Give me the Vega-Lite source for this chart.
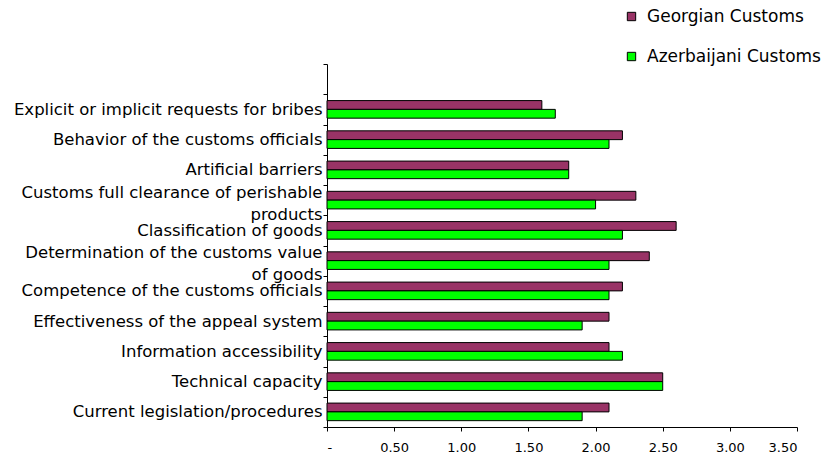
{
  "$schema": "https://vega.github.io/schema/vega-lite/v6.json",
  "width": 470,
  "height": 363,
  "autosize": {"type": "none"},
  "padding": {"left": 327, "top": 64, "right": 38, "bottom": 32},
  "background": "white",
  "config": {
    "view": {"stroke": null},
    "font": "DejaVu Sans"
  },
  "data": {
    "values": [
      {"factor": "Explicit or implicit requests for bribes", "customs": "Georgian Customs", "score": 1.6},
      {"factor": "Explicit or implicit requests for bribes", "customs": "Azerbaijani Customs", "score": 1.7},
      {"factor": "Behavior of the customs officials", "customs": "Georgian Customs", "score": 2.2},
      {"factor": "Behavior of the customs officials", "customs": "Azerbaijani Customs", "score": 2.1},
      {"factor": "Artificial barriers", "customs": "Georgian Customs", "score": 1.8},
      {"factor": "Artificial barriers", "customs": "Azerbaijani Customs", "score": 1.8},
      {"factor": "Customs full clearance of perishable products", "customs": "Georgian Customs", "score": 2.3},
      {"factor": "Customs full clearance of perishable products", "customs": "Azerbaijani Customs", "score": 2.0},
      {"factor": "Classification of goods", "customs": "Georgian Customs", "score": 2.6},
      {"factor": "Classification of goods", "customs": "Azerbaijani Customs", "score": 2.2},
      {"factor": "Determination of the customs value of goods", "customs": "Georgian Customs", "score": 2.4},
      {"factor": "Determination of the customs value of goods", "customs": "Azerbaijani Customs", "score": 2.1},
      {"factor": "Competence of the customs officials", "customs": "Georgian Customs", "score": 2.2},
      {"factor": "Competence of the customs officials", "customs": "Azerbaijani Customs", "score": 2.1},
      {"factor": "Effectiveness of the appeal system", "customs": "Georgian Customs", "score": 2.1},
      {"factor": "Effectiveness of the appeal system", "customs": "Azerbaijani Customs", "score": 1.9},
      {"factor": "Information accessibility", "customs": "Georgian Customs", "score": 2.1},
      {"factor": "Information accessibility", "customs": "Azerbaijani Customs", "score": 2.2},
      {"factor": "Technical capacity", "customs": "Georgian Customs", "score": 2.5},
      {"factor": "Technical capacity", "customs": "Azerbaijani Customs", "score": 2.5},
      {"factor": "Current legislation/procedures", "customs": "Georgian Customs", "score": 2.1},
      {"factor": "Current legislation/procedures", "customs": "Azerbaijani Customs", "score": 1.9}
    ]
  },
  "mark": {"type": "bar", "stroke": "black", "strokeWidth": 1},
  "encoding": {
    "y": {
      "field": "factor",
      "type": "nominal",
      "title": null,
      "scale": {
        "domain": [
          " ",
          "Explicit or implicit requests for bribes",
          "Behavior of the customs officials",
          "Artificial barriers",
          "Customs full clearance of perishable products",
          "Classification of goods",
          "Determination of the customs value of goods",
          "Competence of the customs officials",
          "Effectiveness of the appeal system",
          "Information accessibility",
          "Technical capacity",
          "Current legislation/procedures"
        ],
        "paddingInner": 0,
        "paddingOuter": 0
      },
      "axis": {
        "tickBand": "extent",
        "tickSize": 4,
        "tickColor": "black",
        "domainColor": "black",
        "labelPadding": 1,
        "labelFontSize": 16.5,
        "labelColor": "black",
        "labelLimit": 400,
        "labelLineHeight": 22,
        "grid": false,
        "labelOffset": {
          "condition": {
            "test": "datum.value == 'Customs full clearance of perishable products' || datum.value == 'Determination of the customs value of goods'",
            "value": -8
          },
          "value": 0
        },
        "labelExpr": "datum.value == 'Customs full clearance of perishable products' ? ['Customs full clearance of perishable', 'products'] : datum.value == 'Determination of the customs value of goods' ? ['Determination of the customs value', 'of goods'] : datum.value"
      }
    },
    "yOffset": {
      "field": "customs",
      "type": "nominal",
      "sort": ["Georgian Customs", "Azerbaijani Customs"],
      "scale": {"paddingInner": 0, "paddingOuter": 0.72}
    },
    "x": {
      "field": "score",
      "type": "quantitative",
      "title": null,
      "scale": {"domain": [0, 3.5], "nice": false},
      "axis": {
        "values": [0, 0.5, 1, 1.5, 2, 2.5, 3, 3.5],
        "grid": false,
        "tickSize": 4,
        "tickColor": "black",
        "domainColor": "black",
        "labelPadding": 10,
        "labelFontSize": 13,
        "labelColor": "black",
        "labelExpr": "datum.value == 0 ? '-' : format(datum.value, '.2f')"
      }
    },
    "color": {
      "field": "customs",
      "type": "nominal",
      "title": null,
      "sort": ["Georgian Customs", "Azerbaijani Customs"],
      "scale": {
        "domain": ["Georgian Customs", "Azerbaijani Customs"],
        "range": ["#993366", "#00FF00"]
      },
      "legend": {
        "orient": "none",
        "legendX": 296,
        "legendY": -56,
        "symbolType": "square",
        "symbolSize": 70,
        "symbolStrokeColor": "black",
        "symbolStrokeWidth": 1,
        "labelFontSize": 17,
        "labelColor": "black",
        "labelOffset": 7,
        "rowPadding": 22,
        "labelLimit": 300
      }
    }
  }
}
